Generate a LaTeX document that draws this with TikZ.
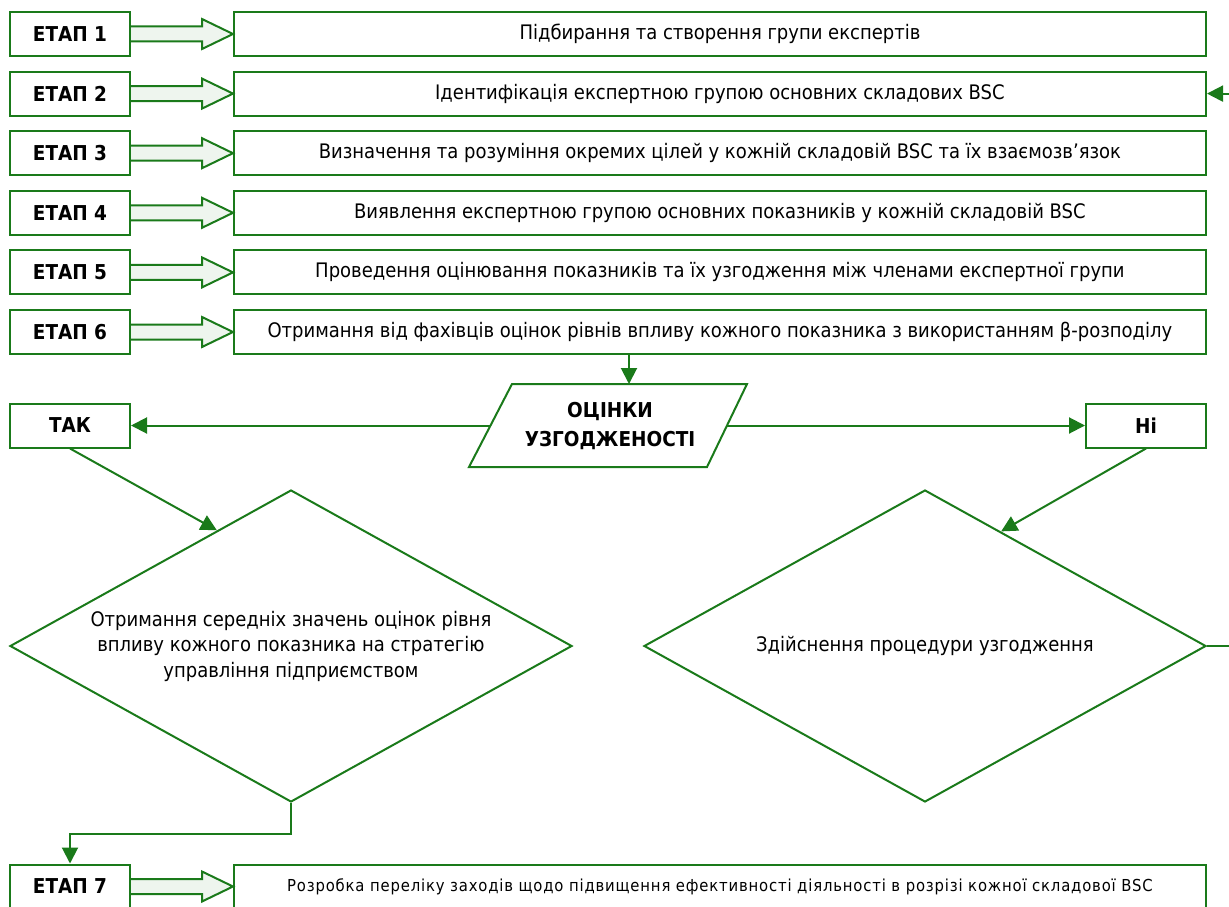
\documentclass[tikz,border=0pt]{standalone}
\usepackage{fontspec}
\setmainfont{DejaVu Sans Condensed}
\usetikzlibrary{calc,shapes.geometric,arrows.meta}
\definecolor{gr}{RGB}{26,122,26}
\definecolor{grfill}{RGB}{238,245,238}
\begin{document}
\begin{tikzpicture}[x=1pt,y=-1pt,
  line width=2pt,
  every node/.style={font=\fontsize{20}{24}\selectfont, text=black},
  stagebox/.style={draw=gr, rectangle, minimum width=120pt, minimum height=44pt, inner sep=0pt, font=\fontsize{20.5}{24}\selectfont\bfseries},
  mainbox/.style={draw=gr, rectangle, minimum width=972pt, minimum height=44pt, inner sep=0pt},
  blk/.style={draw=gr, fill=grfill, line width=2pt, line join=miter},
  arr/.style={draw=gr, line width=2pt, -{Triangle[length=16pt,width=16pt]}},
  ln/.style={draw=gr, line width=2pt},
  dia/.style={draw=gr, diamond, minimum width=562pt, minimum height=312pt, inner sep=0pt}
]
\useasboundingbox (0,0) rectangle (1229,907);
\clip (0,0) rectangle (1229,907);

\newcommand\blockarr[2]{%
  \draw[blk] ($(#1.east)+(0,-7.5)$) -- ($(#2.west)+(-31,-7.5)$) -- ($(#2.west)+(-31,-15)$) -- (#2.west)
    -- ($(#2.west)+(-31,15)$) -- ($(#2.west)+(-31,7.5)$) -- ($(#1.east)+(0,7.5)$);}

% stages
\node[stagebox] (e1) at (70,34) {ЕТАП 1};
\node[stagebox] (e2) at (70,93.6) {ЕТАП 2};
\node[stagebox] (e3) at (70,153.2) {ЕТАП 3};
\node[stagebox] (e4) at (70,212.8) {ЕТАП 4};
\node[stagebox] (e5) at (70,272.4) {ЕТАП 5};
\node[stagebox] (e6) at (70,332) {ЕТАП 6};
\node[stagebox] (e7) at (70,886.5) {ЕТАП 7};

\node[mainbox] (b1) at (720,34) {Підбирання та створення групи експертів};
\node[mainbox] (b2) at (720,93.6) {Ідентифікація експертною групою основних складових BSC};
\node[mainbox] (b3) at (720,153.2) {Визначення та розуміння окремих цілей у кожній складовій BSC та їх взаємозв’язок};
\node[mainbox] (b4) at (720,212.8) {Виявлення експертною групою основних показників у кожній складовій BSC};
\node[mainbox] (b5) at (720,272.4) {Проведення оцінювання показників та їх узгодження між членами експертної групи};
\node[mainbox] (b6) at (720,332) {Отримання від фахівців оцінок рівнів впливу кожного показника з використанням β-розподілу};
\node[mainbox, font=\fontsize{16.5}{20}\selectfont\addfontfeature{LetterSpace=5}] (b7) at (720,886.5) {Розробка переліку заходів щодо підвищення ефективності діяльності в розрізі кожної складової BSC};

\blockarr{e1}{b1}
\blockarr{e2}{b2}
\blockarr{e3}{b3}
\blockarr{e4}{b4}
\blockarr{e5}{b5}
\blockarr{e6}{b6}
\blockarr{e7}{b7}

% decision parallelogram
\draw[ln] (512,384) -- (747,384) -- (707,467) -- (469,467) -- cycle;
\node[font=\fontsize{20.5}{29}\selectfont\bfseries, align=center] (dec) at (610,426) {ОЦІНКИ\\УЗГОДЖЕНОСТІ};
\coordinate (dectop) at (629,384);
\coordinate (decW) at (490.5,425.5);
\coordinate (decE) at (727,425.5);

\node[stagebox] (tak) at (70,425.5) {ТАК};
\node[stagebox] (ni) at (1146,425.5) {Ні};

\draw[arr] (b6.south -| dectop) -- (dectop);
\draw[arr] (decW) -- (tak.east);
\draw[arr] (decE) -- (ni.west);

% diamonds
\node[dia] (ld) at (291,646) {};
\node[align=center, font=\fontsize{20}{25.5}\selectfont] (ldt) at (ld.center) {Отримання середніх значень оцінок рівня\\впливу кожного показника на стратегію\\управління підприємством};
\node[dia] (rd) at (925,646) {};
\node (rdt) at (rd.center) {Здійснення процедури узгодження};

\draw[arr] (tak.south) -- ($(ld.north)!0.263!(ld.west)$);
\draw[arr] (ni.south) -- ($(rd.north)!0.27!(rd.east)$);

% feedback
\coordinate (fbR) at (1229,646);
\coordinate (fbT) at (1229,93.6);
\draw[ln] (rd.east) -- (fbR);
\draw[arr] (fbT) -- (b2.east);

% to stage 7
\draw[arr] (ld.south) -- ++(0,31) -| (e7.north);
\end{tikzpicture}
\end{document}
